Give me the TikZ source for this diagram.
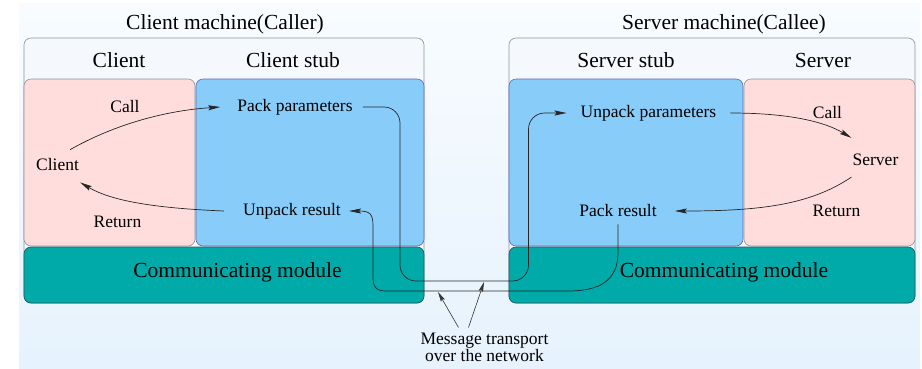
\documentclass[tikz,border=0pt]{standalone}
\usepackage{fontspec}
\setmainfont{Liberation Serif}
\usetikzlibrary{arrows.meta,calc}
\definecolor{bgtop}{HTML}{F8FCFF}
\definecolor{bgbot}{HTML}{E6F2FD}
\definecolor{outerfill}{HTML}{F5F9FD}
\definecolor{outerline}{HTML}{8C9499}
\definecolor{pinkfill}{HTML}{FFDDDD}
\definecolor{bluefill}{HTML}{88CCFA}
\definecolor{tealfill}{HTML}{00AAA8}
\definecolor{tealline}{HTML}{1F5E60}
\begin{document}
\begin{tikzpicture}[x=1pt,y=-1pt,
  outerbox/.style={draw=outerline, fill=outerfill, rounded corners=7pt, line width=0.6pt},
  pinkbox/.style={draw=outerline, fill=pinkfill, rounded corners=7pt, line width=0.6pt},
  bluebox/.style={draw=outerline!70!blue, fill=bluefill, rounded corners=7pt, line width=0.6pt},
  tealbox/.style={draw=tealline, fill=tealfill, rounded corners=7pt, line width=0.7pt},
  big/.style={font=\fontsize{21.5}{24}\selectfont, inner sep=0pt},
  lbl/.style={font=\fontsize{17.5}{17}\selectfont, inner sep=0pt},
  arr/.style={-{Stealth[length=12pt,width=5pt,inset=2pt]}, line width=0.7pt, draw=black!85},
  thin arr/.style={-{Stealth[length=10pt,width=4.5pt,inset=2pt]}, line width=0.6pt, draw=black!80}]
\useasboundingbox (0,0) rectangle (922,368);
\fill[top color=bgtop,bottom color=bgbot] (19,3) rectangle (920,368);

% left machine
\draw[outerbox] (24,38) rectangle (424,303);
\draw[pinkbox] (24,79) rectangle (195,246);
\draw[bluebox] (196,79) rectangle (424,246);
\draw[tealbox] (24,247) rectangle (424,303);
% right machine
\draw[outerbox] (509,38) rectangle (915,303);
\draw[bluebox] (509,79) rectangle (743,246);
\draw[pinkbox] (744,79) rectangle (915,246);
\draw[tealbox] (509,247) rectangle (915,303);

% headers
\node[big] (t1) at (225,24) {Client machine(Caller)};
\node[big] (h1) at (119,60) {Client};
\node[big] (h2) at (293,60) {Client stub};
\node[big] (cm1) at (237.5,272) {Communicating module};
\node[big] (t2) at (724,24) {Server machine(Callee)};
\node[big] (h3) at (626,60) {Server stub};
\node[big] (h4) at (823,60) {Server};
\node[big] (cm2) at (724,272) {Communicating module};

% labels
\node[lbl] (call1) at (125,107) {Call};
\node[lbl] (pp) at (295,107) {Pack parameters};
\node[lbl] (client) at (57.5,165) {Client};
\node[lbl] (ret1) at (117.5,222) {Return};
\node[lbl] (ur) at (292,211) {Unpack result};
\node[lbl] (up) at (648.5,113) {Unpack parameters};
\node[lbl] (call2) at (827.5,113) {Call};
\node[lbl] (server) at (875.5,160) {Server};
\node[lbl] (pr) at (618,211) {Pack result};
\node[lbl] (ret2) at (836.5,211) {Return};
\node[lbl, align=center] (msg) at (484.5,347) {Message transport\\over the network};

% client side arrows
\draw[arr] ($(client.north east)+(-9,-9)$) .. controls (110,127) and (160,111) .. ($(pp.west)+(-17,0)$);
\draw[arr] ($(ur.west)+(-19,0)$) .. controls (150,208) and (110,200) .. ($(client.south east)+(1,11)$);

% request path
\draw[arr, rounded corners=16pt] ($(pp.east)+(10,0)$) -| (400,281) -| ($(up.west)+(-52,0)$) -- ($(up.west)+(-14,0)$);

% reply path
\draw[arr] ($(pr.south)+(0,7)$) -- ++(0,28) .. controls +(0,28) and (600,291) .. (568,291)
  -- (386,291) .. controls (376,291) and (373,287) .. (373,277)
  -- (373,226) .. controls (373,214) and (370,211) .. ($(ur.east)+(8,0)$);

% server side arrows
\draw[arr] ($(up.east)+(14,0)$) .. controls (790,113) and (825,122) .. ($(server.north west)+(-1,-16)$);
\draw[arr] ($(server.south west)+(-1,11)$) .. controls (810,205) and (760,211) .. ($(pr.east)+(18,0)$);

% message transport arrows
\coordinate (n1) at (438,292);
\coordinate (n2) at (484,282);
\draw[thin arr] ($(msg.north)+(-26,-5)$) -- (n1);
\draw[thin arr] ($(msg.north)+(-16,-5)$) -- (n2);
\end{tikzpicture}
\end{document}
